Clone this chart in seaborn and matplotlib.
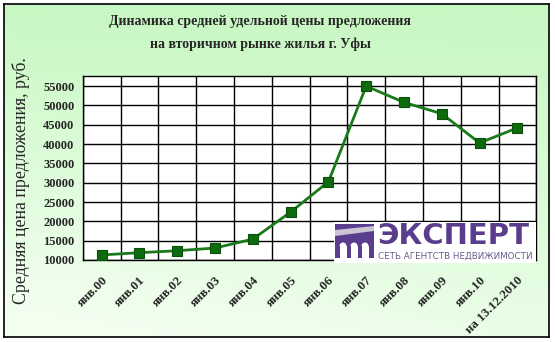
import numpy as np
import pandas as pd
import matplotlib
matplotlib.use("Agg")
import matplotlib.pyplot as plt
import matplotlib.transforms as mtransforms
import seaborn as sns
from matplotlib.patches import Rectangle, Polygon, Wedge

categories = ["янв.00", "янв.01", "янв.02", "янв.03", "янв.04", "янв.05", "янв.06",
              "янв.07", "янв.08", "янв.09", "янв.10", "на 13.12.2010"]
prices = [11300, 11900, 12400, 13100, 15400, 22400, 30250,
          55000, 50800, 47850, 40300, 44200]
yticks = [10000, 15000, 20000, 25000, 30000, 35000, 40000, 45000, 50000, 55000]

title1 = "Динамика средней удельной цены предложения"
title2 = "на вторичном рынке жилья г. Уфы"
ylabel = "Средняя цена предложения, руб."

sns.set_theme(style="white")
SERIF = ["Liberation Serif", "DejaVu Serif"]
plt.rcParams["font.family"] = SERIF

W, H = 555, 342
fig = plt.figure(figsize=(W / 100, H / 100), dpi=100)
fig.patch.set_facecolor("white")

# background gradient panel with frame
bg = fig.add_axes([4 / W, 1 - 337 / H, 545 / W, 333 / H])
yy, xx = np.mgrid[0:1:200j, 0:1:200j]
t = np.clip(0.8 * yy + 0.3 * (1 - xx) * yy, 0, 1)
c_top = np.array([0.78, 0.97, 0.76])
c_bot = np.array([0.95, 1.0, 0.94])
img = c_top[None, None, :] * (1 - t[..., None]) + c_bot[None, None, :] * t[..., None]
bg.imshow(img, aspect="auto", extent=[0, 1, 1, 0])
bg.set_xticks([]); bg.set_yticks([])
for s in bg.spines.values():
    s.set_color("black"); s.set_linewidth(1.2)
bg.set_zorder(0)

# main axes
L, R, T, B = 82.7, 536.3, 75.7, 260
ax = fig.add_axes([L / W, 1 - B / H, (R - L) / W, (B - T) / H])
ax.set_zorder(1)
ax.set_facecolor("white")

df = pd.DataFrame({"cat": categories, "price": prices})
df["x"] = np.arange(len(categories))
sns.lineplot(data=df, x="x", y="price", ax=ax, color="#1a7a1a", linewidth=2,
             marker="s", markersize=7, markerfacecolor="#0d6b0d",
             markeredgecolor="#0a4f0a", markeredgewidth=0.8, zorder=3)

ax.set_xlim(-0.5, len(categories) - 0.5)
ax.set_ylim(10000, 57700)
ax.set_yticks(yticks)
ax.set_yticklabels([str(v) for v in yticks], fontsize=9, fontweight="bold", family=SERIF)
ax.set_xticks(np.arange(len(categories)))
ax.set_xticklabels(categories, rotation=45, ha="right", rotation_mode="anchor",
                   fontsize=9.3, fontweight="bold", family=SERIF)
offset = mtransforms.ScaledTranslation(-10 / 100, -3 / 100, fig.dpi_scale_trans)
for lab in ax.get_xticklabels():
    lab.set_transform(lab.get_transform() + offset)
ax.set_xticks(np.arange(len(categories) + 1) - 0.5, minor=True)
ax.tick_params(axis="x", which="major", length=0, pad=10)
ax.tick_params(axis="x", which="minor", length=4, width=1, color="black", direction="out")
ax.tick_params(axis="y", which="major", length=4, width=1, color="black", direction="out", pad=2)
ax.xaxis.grid(True, which="minor", color="black", linewidth=1)
ax.yaxis.grid(True, which="major", color="black", linewidth=1)
ax.set_axisbelow(True)
for s in ax.spines.values():
    s.set_color("black"); s.set_linewidth(1)
ax.set_xlabel("")
ax.set_ylabel("")

fig.text(260 / W, 1 - 22 / H, title1, ha="center", va="center", fontsize=10,
         fontweight="bold", family=SERIF)
fig.text(260 / W, 1 - 44 / H, title2, ha="center", va="center", fontsize=10,
         fontweight="bold", family=SERIF)
fig.text(21 / W, 1 - 181 / H, ylabel, ha="center", va="center", rotation=90,
         fontsize=12.8, family=SERIF)

# logo
purple = "#5b3d8e"
lg = fig.add_axes([334 / W, 1 - 263 / H, 202 / W, 41 / H])
lg.set_zorder(2)
lg.set_xlim(0, 202); lg.set_ylim(41, 0)
lg.axis("off")
lg.add_patch(Rectangle((0, 0), 202, 41, facecolor="white", edgecolor="none"))
lg.add_patch(Rectangle((1, 2), 39, 34, facecolor=purple, edgecolor="none"))
lg.add_patch(Polygon([[1, 8], [40, 4], [40, 9], [1, 14]], closed=True,
                     facecolor="#c9c5d3", edgecolor="none"))
for cx, w in [(9, 7), (20, 7), (31, 7)]:
    lg.add_patch(Rectangle((cx - w / 2, 24), w, 12, facecolor="white", edgecolor="none"))
    lg.add_patch(Wedge((cx, 24), w / 2, 180, 360, facecolor="white", edgecolor="none"))
lg.text(43, 14, "ЭКСПЕРТ", ha="left", va="center", fontsize=21, fontweight="bold",
        color=purple, family="DejaVu Sans")
lg.text(44, 34.5, "СЕТЬ АГЕНТСТВ НЕДВИЖИМОСТИ", ha="left", va="center", fontsize=6.3,
        color="#6b5b8b", family="DejaVu Sans")

fig.savefig("out.png", dpi=100)
